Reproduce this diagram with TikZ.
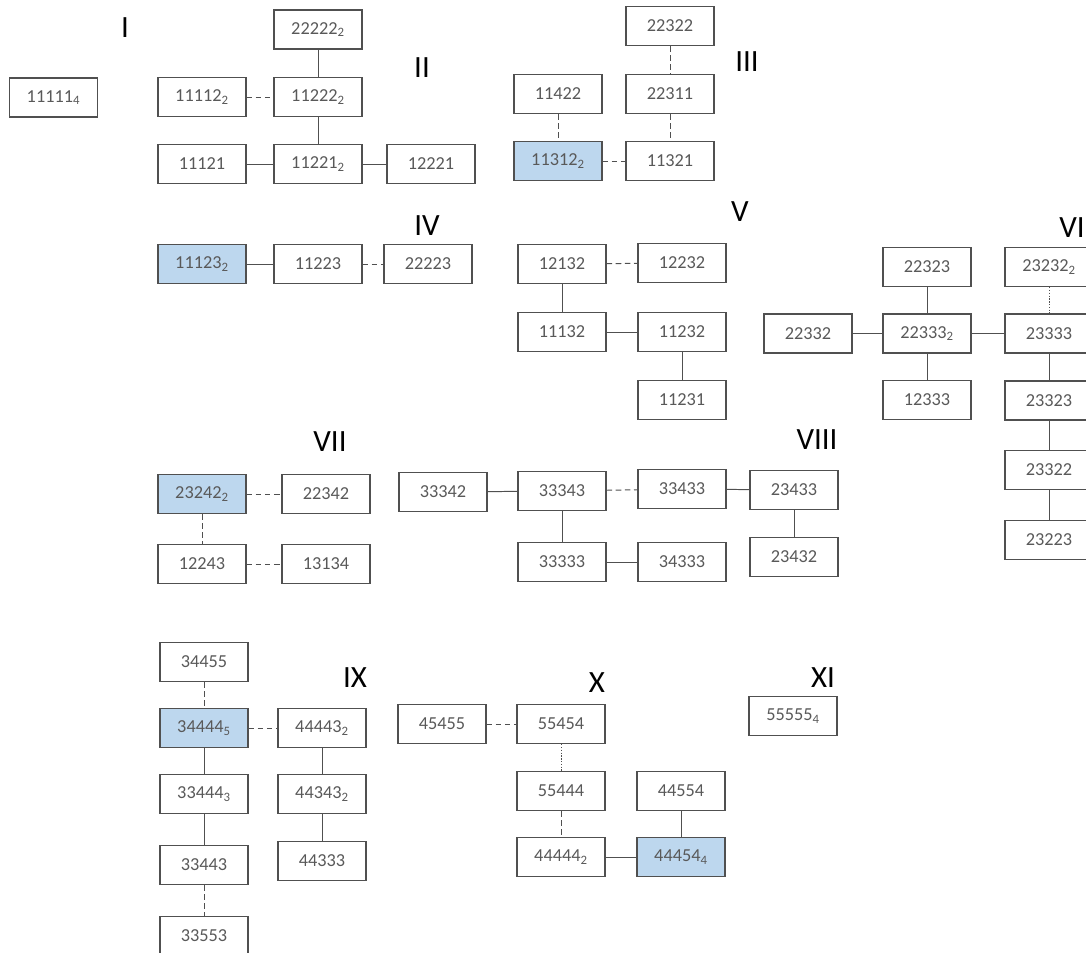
\documentclass[tikz,border=0pt]{standalone}
\usepackage{fontspec}
\setmainfont{Carlito}
\definecolor{boxblue}{HTML}{BDD7EE}
\definecolor{boxline}{HTML}{505050}
\definecolor{numtext}{HTML}{595959}
\begin{document}
\begin{tikzpicture}[x=0.025cm, y=-0.025cm,
    every node/.style={font=\fontsize{13}{15}\selectfont},
    box/.style={rectangle, draw=boxline, line width=0.8pt, minimum width=2.2cm, minimum height=0.975cm, inner sep=0pt, text=numtext, fill=white},
    hit/.style={box, fill=boxblue},
    grp/.style={font=\fontsize{22}{24}\selectfont, text=black},
    link/.style={draw=boxline, line width=0.7pt},
    weak/.style={link, dash pattern=on 4pt off 2.5pt},
    faint/.style={link, dash pattern=on 1pt off 1pt}]
    \useasboundingbox (0,0) rectangle (1086,953);

        % Group I.
        \node[grp] (g-I) at (125,28) {I};
        \node[box] (n11111) at (53.5,97.5) {11111\textsubscript{4}};

        % Group II.
        \node[grp] (g-II) at (422,68) {II};
        \node[box] (n22222) at (318,29.5) {22222\textsubscript{2}};
        \node[box] (n11222) at (318,97) {11222\textsubscript{2}};
        \node[box] (n11112) at (202,97) {11112\textsubscript{2}};
        \node[box] (n11121) at (202,164) {11121};
        \node[box] (n11221) at (318,164) {11221\textsubscript{2}};
        \node[box] (n12221) at (431,164) {12221};
        \path[link] (n22222) edge (n11222) (n11222) edge (n11221) (n11121) edge (n11221) (n11221) edge (n12221);
        \path[weak] (n11112) edge (n11222);

        % Group III.
        \node[grp] (g-III) at (747,62) {III};
        \node[box] (n22322) at (670,26) {22322};
        \node[box] (n22311) at (670,94) {22311};
        \node[box] (n11321) at (670,161) {11321};
        \node[box] (n11422) at (558,94) {11422};
        \node[hit] (n11312) at (558,161) {11312\textsubscript{2}};
        \path[weak] (n22322) edge (n22311) (n22311) edge (n11321) (n11422) edge (n11312) (n11312) edge (n11321);

        % Group IV.
        \node[grp] (g-IV) at (427,226) {IV};
        \node[hit] (n11123) at (202,264) {11123\textsubscript{2}};
        \node[box] (n11223) at (318,264) {11223};
        \node[box] (n22223) at (428,264) {22223};
        \path[link] (n11123) edge (n11223);
        \path[weak] (n11223) edge (n22223);

        % Group V.
        \node[grp] (g-V) at (740,212) {V};
        \node[box] (n12132) at (562,264) {12132};
        \node[box] (n12232) at (682,263) {12232};
        \node[box] (n11132) at (562,332) {11132};
        \node[box] (n11232) at (682,332) {11232};
        \node[box] (n11231) at (682,400) {11231};
        \path[weak] (n12132) edge (n12232);
        \path[link] (n12132) edge (n11132) (n11132) edge (n11232) (n11232) edge (n11231);

        % Group VI.
        \node[grp] (g-VI) at (1072,228) {VI};
        \node[box] (n22323) at (927,267) {22323};
        \node[box] (n22332) at (808,333.5) {22332};
        \node[box] (n22333) at (927,333.5) {22333\textsubscript{2}};
        \node[box] (n12333) at (927,400) {12333};
        \node[box] (n23232) at (1049,267) {23232\textsubscript{2}};
        \foreach \n/\y in {23333/333.5, 23323/400.5, 23322/470, 23223/540}
            \node[box] (n\n) at (1049,\y) {\n};
        \path[link] (n22323) edge (n22333) (n22332) edge (n22333) (n22333) edge (n12333) (n22333) edge (n23333);
        \path[faint] (n23232) edge (n23333);
        \path[link] (n23333) edge (n23323) (n23323) edge (n23322) (n23322) edge (n23223);

        % Group VII.
        \node[grp] (g-VII) at (330,442) {VII};
        \node[hit] (n23242) at (202,494) {23242\textsubscript{2}};
        \node[box] (n22342) at (326,494) {22342};
        \node[box] (n12243) at (202,564) {12243};
        \node[box] (n13134) at (326,564) {13134};
        \path[weak] (n23242) edge (n22342) (n23242) edge (n12243) (n12243) edge (n13134);

        % Group VIII.
        \node[grp] (g-VIII) at (817,440) {VIII};
        \node[box] (n33342) at (443,492) {33342};
        \node[box] (n33343) at (562,491) {33343};
        \node[box] (n33433) at (682,489) {33433};
        \node[box] (n23433) at (794,490) {23433};
        \node[box] (n33333) at (562,562) {33333};
        \node[box] (n34333) at (682,562) {34333};
        \node[box] (n23432) at (794,557) {23432};
        \path[link] (n33342) edge (n33343) (n33433) edge (n23433) (n33343) edge (n33333) (n33333) edge (n34333) (n23433) edge (n23432);
        \path[weak] (n33343) edge (n33433);

        % Group IX.
        \node[grp] (g-IX) at (355,678) {IX};
        \node[box] (n34455) at (204,662) {34455};
        \node[hit] (n34444) at (204,728) {34444\textsubscript{5}};
        \node[box] (n33444) at (204,794) {33444\textsubscript{3}};
        \node[box] (n33443) at (204,865) {33443};
        \node[box] (n33553) at (204,936) {33553};
        \node[box] (n44443) at (322,728) {44443\textsubscript{2}};
        \node[box] (n44343) at (322,794) {44343\textsubscript{2}};
        \node[box] (n44333) at (322,861) {44333};
        \path[weak] (n34455) edge (n34444) (n34444) edge (n44443) (n33443) edge (n33553);
        \path[link] (n34444) edge (n33444) (n33444) edge (n33443) (n44443) edge (n44343) (n44343) edge (n44333);

        % Group X.
        \node[grp] (g-X) at (597,683) {X};
        \node[box] (n45455) at (442,724) {45455};
        \node[box] (n55454) at (561,724) {55454};
        \node[box] (n55444) at (561,791) {55444};
        \node[box] (n44444) at (561,857) {44444\textsubscript{2}};
        \node[box] (n44554) at (681,791) {44554};
        \node[hit] (n44454) at (681,857) {44454\textsubscript{4}};
        \path[weak] (n45455) edge (n55454) (n55444) edge (n44444);
        \path[faint] (n55454) edge (n55444);
        \path[link] (n44444) edge (n44454) (n44554) edge (n44454);

        % Group XI.
        \node[grp] (g-XI) at (823,678) {XI};
        \node[box] (n55555) at (793,716) {55555\textsubscript{4}};

    \end{tikzpicture}
\end{document}
